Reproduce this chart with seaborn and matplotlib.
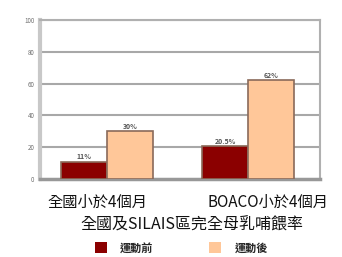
import matplotlib
matplotlib.use("Agg")
import matplotlib.pyplot as plt
import matplotlib.transforms as mtransforms
import seaborn as sns
import pandas as pd
from matplotlib.patches import Patch

categories = ["全國小於4個月", "BOACO小於4個月"]
series = ["運動前", "運動後"]
before = [11, 20.5]
after = [30, 62]
value_labels_before = ["11%", "20.5%"]
value_labels_after = ["30%", "62%"]
yticks = [0, 20, 40, 60, 80, 100]
colors = ["#8B0000", "#FFC799"]

sns.set_theme(style="white")
plt.rcParams['font.family'] = ['Noto Sans CJK TC', 'DejaVu Sans']

df = pd.DataFrame({
    "cat": categories * 2,
    "series": [series[0]] * 2 + [series[1]] * 2,
    "val": before + after,
})

fig = plt.figure(figsize=(3.42, 2.57), dpi=100)
ax = fig.add_axes([0.117, 0.3035, 0.819, 0.6185])

sns.barplot(data=df, x="cat", y="val", hue="series", order=categories,
            hue_order=series, palette=colors, saturation=1, width=0.65, ax=ax,
            edgecolor="#8a6a5a", linewidth=1.2, legend=False, zorder=3)

ax.set_ylim(0, 100)
ax.set_xlim(-0.474, 1.51)
ax.set_yticks(yticks)
ax.set_yticklabels([str(t) for t in yticks], fontsize=4.5, color="#707070")
ax.tick_params(axis="y", length=3, color="#a0a0a0", pad=1)
ax.tick_params(axis="x", length=0, pad=11)
for t in yticks[1:]:
    ax.axhline(t, color="#a8a8a8", lw=1.5, zorder=1)
for s in ["left", "right", "top", "bottom"]:
    ax.spines[s].set_color("#b0b0b0")
ax.spines["left"].set_linewidth(3)
ax.spines["left"].set_color("#c8c8c8")
ax.spines["bottom"].set_linewidth(2.5)
ax.spines["bottom"].set_color("#989898")
ax.spines["right"].set_linewidth(1.5)
ax.spines["top"].set_linewidth(1.5)

ax.set_xticks(range(len(categories)))
ax.set_xticklabels(categories, fontsize=11, color="#111111")
shifts = [-9, 20]
for lab, dx in zip(ax.get_xticklabels(), shifts):
    lab.set_transform(lab.get_transform() +
                      mtransforms.ScaledTranslation(dx / 100, 0, fig.dpi_scale_trans))
ax.set_ylabel("")
ax.set_xlabel("全國及SILAIS區完全母乳哺餵率", fontsize=11.5, color="#111111",
              fontweight="medium")
ax.xaxis.set_label_coords(0.543, -0.29)
ax.xaxis.label.set_va("center")

labels_all = [value_labels_before, value_labels_after]
for cont, labs in zip(ax.containers, labels_all):
    ax.bar_label(cont, labels=labs, fontsize=5, color="#555555",
                 fontweight="bold", padding=1)

handles = [Patch(facecolor=c, edgecolor="none") for c in colors]
fig.legend(handles, series, loc="center", bbox_to_anchor=(0.53, 0.035),
           ncol=2, frameon=False, handlelength=1.1,
           handleheight=1.1, columnspacing=5, handletextpad=1.2,
           prop={"weight": "bold", "size": 8})

fig.savefig("out.png", dpi=100)
